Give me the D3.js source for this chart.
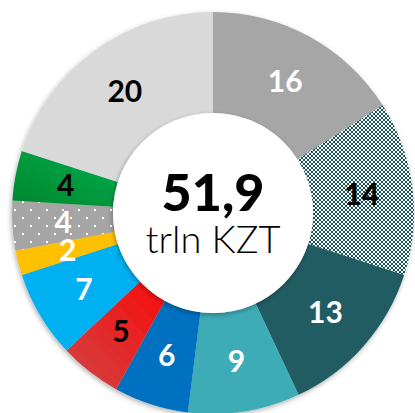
<!DOCTYPE html>
<html>
<head>
<meta charset="utf-8">
<script src="https://cdn.jsdelivr.net/npm/d3@7"></script>
<style>
  body { margin: 0; background: #fff; }
  svg { display: block; font-family: Lato, "Open Sans", sans-serif; }
</style>
</head>
<body>
<div class="viewbox"></div>
<script>
  // shares of the total, clockwise from 12 o'clock
  const labels = ["16", "14", "13", "9", "6", "5", "7", "2", "4", "4", "20"]
  const values = [16, 14, 13, 9, 6, 5, 7, 2, 4, 4, 20]
  const fills = ["#a6a6a6", "url(#checks)", "#225c63", "#3eacb7", "#0070c0",
    "url(#redGrad)", "#00b0f0", "#ffc000", "url(#dots)", "url(#greenGrad)", "#d9d9d9"]
  const textColors = ["#fff", "#000", "#fff", "#fff", "#fff", "#000", "#fff",
    "#fff", "#fff", "#000", "#000"]
  const totalLabel = "51,9"
  const unitLabel = "trln KZT"

  const svg_width = 415
  const svg_height = 413
  const cx = 213, cy = 213
  const outerR = 201, innerR = 100

  let svg = d3.select(".viewbox")
    .append("svg")
    .attr("width", svg_width)
    .attr("height", svg_height)

  let defs = svg.append("defs")

  // fine checkerboard for the "14" slice
  let checks = defs.append("pattern")
    .attr("id", "checks")
    .attr("patternUnits", "userSpaceOnUse")
    .attr("width", 4).attr("height", 4)
  checks.append("rect").attr("width", 4).attr("height", 4).attr("fill", "#fff")
  checks.append("rect").attr("width", 2).attr("height", 2).attr("fill", "#15545a")
  checks.append("rect").attr("x", 2).attr("y", 2).attr("width", 2).attr("height", 2).attr("fill", "#15545a")

  // white dots on gray
  let dots = defs.append("pattern")
    .attr("id", "dots")
    .attr("patternUnits", "userSpaceOnUse")
    .attr("x", 1).attr("y", 4)
    .attr("width", 16).attr("height", 16)
  dots.append("rect").attr("width", 16).attr("height", 16).attr("fill", "#a5a5a5")
  dots.append("rect").attr("x", 0).attr("y", 0).attr("width", 2).attr("height", 2).attr("fill", "#fff")
  dots.append("rect").attr("x", 8).attr("y", 8).attr("width", 2).attr("height", 2).attr("fill", "#fff")

  let red = defs.append("linearGradient").attr("id", "redGrad")
    .attr("x1", "1").attr("y1", "0").attr("x2", "0").attr("y2", "1")
  red.append("stop").attr("offset", "0").attr("stop-color", "#f80c0c")
  red.append("stop").attr("offset", "1").attr("stop-color", "#cf4444")

  let green = defs.append("linearGradient").attr("id", "greenGrad")
    .attr("x1", "1").attr("y1", "0").attr("x2", "0").attr("y2", "1")
  green.append("stop").attr("offset", "0").attr("stop-color", "#00ad50")
  green.append("stop").attr("offset", "1").attr("stop-color", "#00862c")

  let shadow = defs.append("filter").attr("id", "shadow")
    .attr("x", "-10%").attr("y", "-10%").attr("width", "120%").attr("height", "120%")
  shadow.append("feDropShadow")
    .attr("dx", -1).attr("dy", 2).attr("stdDeviation", 2.5)
    .attr("flood-color", "#000").attr("flood-opacity", 0.3)

  let pie = d3.pie().sort(null).value(d => d)
  let arcs = pie(values)
  let arc = d3.arc().innerRadius(innerR).outerRadius(outerR)
  let labelArc = d3.arc().innerRadius(150).outerRadius(150)

  let g = svg.append("g").attr("transform", `translate(${cx},${cy})`)

  g.append("g")
    .attr("filter", "url(#shadow)")
    .selectAll("path")
    .data(arcs)
    .enter()
    .append("path")
    .attr("d", arc)
    .attr("fill", (d, i) => fills[i])

  // the white hole, slightly lifted off the ring
  g.append("circle")
    .attr("r", innerR)
    .attr("fill", "#fff")
    .attr("filter", "url(#shadow)")

  g.selectAll("text.val")
    .data(arcs)
    .enter()
    .append("text")
    .attr("class", "val")
    .attr("transform", d => `translate(${labelArc.centroid(d)})`)
    .attr("dy", "0.36em")
    .attr("text-anchor", "middle")
    .attr("font-size", 30)
    .attr("font-weight", (d, i) => i === 1 ? 900 : 700)
    .attr("fill", (d, i) => textColors[i])
    .text((d, i) => labels[i])

  g.append("text")
    .attr("y", -2)
    .attr("text-anchor", "middle")
    .attr("font-size", 52)
    .attr("font-weight", 900)
    .text(totalLabel)

  g.append("text")
    .attr("y", 40)
    .attr("text-anchor", "middle")
    .attr("font-size", 38)
    .attr("font-weight", 300)
    .text(unitLabel)
</script>
</body>
</html>
